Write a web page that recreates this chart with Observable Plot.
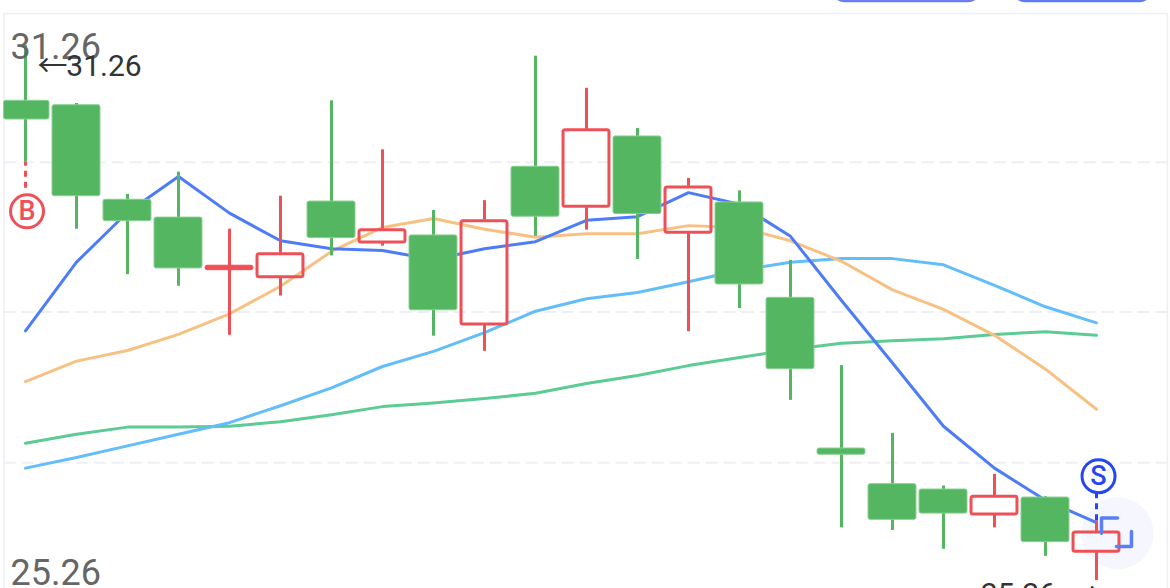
<!DOCTYPE html>
<html><head><meta charset="utf-8">
<script src="https://cdn.jsdelivr.net/npm/d3@7"></script>
<script src="https://cdn.jsdelivr.net/npm/@observablehq/plot@0.6"></script>
<style>html,body{margin:0;padding:0;background:#fff;overflow:hidden}</style>
</head><body><div id="chart"></div>
<script>
const open_  = [30.43,30.59,29.29,28.76,28.74,28.65,29.10,29.04,28.29,28.12,29.34,29.44,29.37,29.15,28.58,27.63,26.67,25.94,26.01,25.99,25.69,25.57];
const close_ = [30.64,29.57,29.53,29.33,28.79,28.93,29.51,29.20,29.13,29.30,29.90,30.32,30.24,29.68,29.50,28.43,26.74,26.34,26.28,26.21,26.19,25.81];
const high   = [31.26,30.61,29.59,29.84,29.20,29.57,30.64,30.09,29.41,29.52,31.14,30.78,30.33,29.77,29.63,28.85,27.67,26.91,26.32,26.45,26.20,25.93];
const low    = [29.95,29.20,28.69,28.56,28.01,28.45,28.90,29.01,28.00,27.83,29.12,29.19,28.86,28.05,28.31,27.28,25.85,25.82,25.61,25.85,25.53,25.26];
const up     = [0,0,0,0,1,1,0,1,0,1,0,1,0,1,0,0,0,0,0,1,0,1];
const ma5  = [28.06,28.83,29.39,29.79,29.38,29.07,28.98,28.96,28.86,28.98,29.06,29.30,29.34,29.61,29.48,29.12,28.40,27.70,26.99,26.52,26.16,25.91];
const ma10 = [27.49,27.72,27.84,28.02,28.25,28.56,28.95,29.22,29.32,29.20,29.11,29.15,29.15,29.24,29.22,29.07,28.84,28.52,28.30,28.01,27.63,27.18];
const ma20 = [26.52,26.64,26.77,26.90,27.03,27.22,27.42,27.66,27.83,28.04,28.28,28.42,28.49,28.61,28.74,28.83,28.87,28.87,28.80,28.57,28.33,28.15];
const ma30 = [26.80,26.90,26.98,26.98,26.99,27.04,27.12,27.21,27.25,27.30,27.36,27.47,27.56,27.67,27.76,27.85,27.92,27.95,27.97,28.02,28.05,28.01];
const gridValues = [29.95,28.27,26.58];
const axisLabels = [{y:31.24,t:"31.26"},{y:25.34,t:"25.26"}];

const idx = open_.map((_,i)=>i);
const candles = idx.map(i=>({i,o:open_[i],c:close_[i],h:high[i],l:low[i],up:up[i]}));
const series = (arr)=>arr.map((v,i)=>({i,v}));
const GREEN="#55b661", RED="#ee5058";
const isDoji = d=>Math.abs(d.c-d.o)<0.1;
const hollow = candles.filter(d=>d.up && !isDoji(d));
const solid = candles.filter(d=>!d.up || isDoji(d));
const W = 0.47;

const chart = Plot.plot({
  width:1170,height:588,
  marginTop:0,marginRight:0,marginBottom:0,marginLeft:0,
  x:{type:"linear",domain:[-0.4902,22.451],axis:null},
  y:{type:"linear",domain:[25.17,31.765],axis:null},
  style:{background:"#fff",overflow:"hidden"},
  marks:[
    Plot.rect([{a:15.8,b:18.76,f:"#6a7df2"},{a:19.34,b:22.12,f:"#5b7cf3"}],{x1:"a",x2:"b",y1:31.74,y2:32.3,fill:"f",rx:14}),
    Plot.ruleY([31.62],{x1:-0.42,x2:22.39,stroke:"#eeeef5",strokeWidth:1.5}),
    Plot.ruleX([-0.42,22.39],{y1:25,y2:31.62,stroke:"#eeeef5",strokeWidth:1.5}),
    Plot.ruleY(gridValues,{x1:-0.42,x2:22.39,stroke:"#eeeef5",strokeWidth:2,strokeDasharray:"12 6"}),
    Plot.dot([{x:21.412,y:25.79}],{x:"x",y:"y",r:36,fill:"#f5f6fe",stroke:"none"}),
    Plot.line(series(ma30),{x:"i",y:"v",stroke:"#5ccb94",strokeWidth:3}),
    Plot.line(series(ma20),{x:"i",y:"v",stroke:"#62bdf8",strokeWidth:3}),
    Plot.line(series(ma10),{x:"i",y:"v",stroke:"#f7c184",strokeWidth:3}),
    Plot.line(series(ma5),{x:"i",y:"v",stroke:"#4d7cf6",strokeWidth:3}),
    Plot.ruleX(solid,{x:"i",y1:"l",y2:"h",stroke:d=>d.up?RED:GREEN,strokeWidth:3}),
    Plot.ruleX(hollow,{x:"i",y1:"c",y2:"h",stroke:RED,strokeWidth:3}),
    Plot.ruleX(hollow,{x:"i",y1:"l",y2:"o",stroke:RED,strokeWidth:3}),
    Plot.rect(solid,{x1:d=>Math.max(d.i-W,-0.42),x2:d=>d.i+W,y1:"o",y2:"c",fill:d=>d.up?RED:GREEN,stroke:d=>d.up?RED:"#86cf90",strokeWidth:1,rx:2}),
    Plot.rect(hollow,{x1:d=>d.i-W,x2:d=>d.i+W,y1:"o",y2:"c",fill:"none",stroke:RED,strokeWidth:3,inset:1,rx:2}),
    // buy / sell markers
    Plot.ruleX([0],{y1:29.66,y2:29.95,stroke:RED,strokeWidth:3,strokeDasharray:"6 5"}),
    Plot.ruleX([21],{y1:25.93,y2:26.24,stroke:"#2447f0",strokeWidth:3,strokeDasharray:"6 5"}),
    Plot.dot([{x:0.03,y:29.4}],{x:"x",y:"y",r:16.5,fill:"#fff",stroke:RED,strokeWidth:3}),
    Plot.text([{x:0.03,y:29.4}],{x:"x",y:"y",text:()=>"B",fill:RED,fontSize:27,fontFamily:"Roboto",fontWeight:500}),
    Plot.dot([{x:21.04,y:26.43}],{x:"x",y:"y",r:16.5,fill:"#fff",stroke:"#2447f0",strokeWidth:3}),
    Plot.text([{x:21.04,y:26.43}],{x:"x",y:"y",text:()=>"S",fill:"#2447f0",fontSize:27,fontFamily:"Roboto",fontWeight:500}),
    // focus brackets
    Plot.line([[21.098,25.79],[21.098,25.96],[21.412,25.96]],{stroke:"#5b7ff5",strokeWidth:3.5,curve:"linear"}),
    Plot.line([[21.686,25.81],[21.686,25.64],[21.392,25.64]],{stroke:"#5b7ff5",strokeWidth:3.5,curve:"linear"}),
    // labels
    Plot.text(axisLabels,{x:-0.294,y:"y",text:"t",textAnchor:"start",fill:"#666",fontSize:36,fontFamily:"Roboto"}),
    Plot.text(["←"],{x:0.235,y:31.03,text:d=>d,textAnchor:"start",fill:"#333",fontSize:30,fontFamily:"'Noto Sans CJK SC'"}),
    Plot.text(["31.26"],{x:0.8,y:31.03,text:d=>d,textAnchor:"start",fill:"#333",fontSize:30,fontFamily:"Roboto"}),
    Plot.text(["25.26"],{x:18.73,y:25.1,text:d=>d,textAnchor:"start",fill:"#333",fontSize:30,fontFamily:"Roboto"}),
    Plot.text(["→"],{x:20.5,y:25.1,text:d=>d,textAnchor:"start",fill:"#333",fontSize:30,fontFamily:"'Noto Sans CJK SC'"})
  ]
});
document.getElementById("chart").append(chart);
</script></body></html>
